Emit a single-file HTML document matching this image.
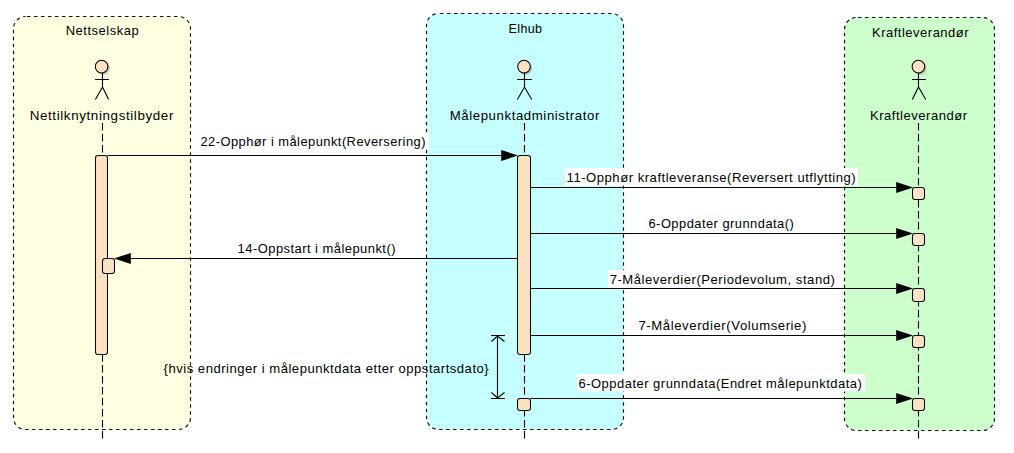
<!DOCTYPE html>
<html><head><meta charset="utf-8"><style>html,body{margin:0;padding:0;background:#fff;}svg{display:block;}</style></head>
<body>
<svg width="1014" height="453" viewBox="0 0 1014 453">
<defs><filter id="blur" x="-50%" y="-50%" width="200%" height="200%"><feGaussianBlur stdDeviation="0.7"/></filter></defs>
<rect width="1014" height="453" fill="#fff"/>
<rect x="13.5" y="16.5" width="177" height="413" rx="12" ry="12" fill="#FFFFE1" stroke="#111" stroke-width="1.15" stroke-dasharray="3.6 3.4" stroke-dashoffset="-1.4"/>
<rect x="426.5" y="13.5" width="197" height="416" rx="12" ry="12" fill="#C6FFFF" stroke="#111" stroke-width="1.15" stroke-dasharray="3.6 3.4" stroke-dashoffset="-1.4"/>
<rect x="844.5" y="17.5" width="150" height="413" rx="12" ry="12" fill="#CCFFCC" stroke="#111" stroke-width="1.15" stroke-dasharray="3.6 3.4" stroke-dashoffset="-1.4"/>
<circle cx="103.19999999999999" cy="68.2" r="6.6" fill="#8a8a8a" opacity="0.5" filter="url(#blur)"/>
<circle cx="101.6" cy="66.6" r="6.3" fill="#FBE2C4" stroke="#000" stroke-width="1.05"/>
<path d="M95.1 79.5 H108.9 M102.5 72.9 V87 M95.39999999999999 99.5 L102.5 87 L108.60000000000001 99.5" stroke="#000" stroke-width="1.1" fill="none"/>
<circle cx="525.6" cy="68.2" r="6.6" fill="#8a8a8a" opacity="0.5" filter="url(#blur)"/>
<circle cx="524" cy="66.6" r="6.3" fill="#FBE2C4" stroke="#000" stroke-width="1.05"/>
<path d="M517.1 79.5 H532 M524.5 72.9 V87 M517.4 99.5 L524.5 87 L531.7 99.5" stroke="#000" stroke-width="1.1" fill="none"/>
<circle cx="920.0" cy="68.2" r="6.6" fill="#8a8a8a" opacity="0.5" filter="url(#blur)"/>
<circle cx="918.4" cy="66.6" r="6.3" fill="#FBE2C4" stroke="#000" stroke-width="1.05"/>
<path d="M912 79.5 H926 M918.5 72.9 V87 M912.3 99.5 L918.5 87 L925.7 99.5" stroke="#000" stroke-width="1.1" fill="none"/>
<line x1="102.5" y1="123" x2="102.5" y2="438.5" stroke="#000" stroke-width="1.1" stroke-dasharray="7.5 3.5"/>
<line x1="524.5" y1="123" x2="524.5" y2="438.5" stroke="#000" stroke-width="1.1" stroke-dasharray="7.5 3.5"/>
<line x1="918.5" y1="123" x2="918.5" y2="438.5" stroke="#000" stroke-width="1.1" stroke-dasharray="7.5 3.5"/>
<rect x="95.5" y="155.5" width="12" height="199" rx="2.5" ry="2.5" fill="#FAE2C2" stroke="#0a0a0a" stroke-width="1.05"/>
<rect x="102.5" y="258.5" width="12" height="15" rx="2.5" ry="2.5" fill="#FAE2C2" stroke="#0a0a0a" stroke-width="1.05"/>
<rect x="517.5" y="155.5" width="13" height="199" rx="2.5" ry="2.5" fill="#FAE2C2" stroke="#0a0a0a" stroke-width="1.05"/>
<rect x="517.5" y="398.5" width="13" height="12" rx="2.5" ry="2.5" fill="#FAE2C2" stroke="#0a0a0a" stroke-width="1.05"/>
<rect x="912.5" y="187.5" width="12" height="12" rx="2.5" ry="2.5" fill="#FAE2C2" stroke="#0a0a0a" stroke-width="1.05"/>
<rect x="912.5" y="233.5" width="12" height="12" rx="2.5" ry="2.5" fill="#FAE2C2" stroke="#0a0a0a" stroke-width="1.05"/>
<rect x="912.5" y="288.5" width="12" height="13" rx="2.5" ry="2.5" fill="#FAE2C2" stroke="#0a0a0a" stroke-width="1.05"/>
<rect x="912.5" y="335.5" width="12" height="12" rx="2.5" ry="2.5" fill="#FAE2C2" stroke="#0a0a0a" stroke-width="1.05"/>
<rect x="912.5" y="398.5" width="12" height="12" rx="2.5" ry="2.5" fill="#FAE2C2" stroke="#0a0a0a" stroke-width="1.05"/>
<rect x="199" y="132" width="230.2" height="17.5" fill="#fff"/>
<rect x="565" y="168" width="293" height="17.5" fill="#fff"/>
<rect x="608" y="270" width="229" height="18" fill="#fff"/>
<rect x="577" y="374" width="288" height="17.5" fill="#fff"/>
<line x1="107.5" y1="155.5" x2="501.2" y2="155.5" stroke="#000" stroke-width="1.1"/><path d="M501.2 149.9 L518.0 155.5 L501.2 161.1 Z" fill="#000"/>
<line x1="530.5" y1="187.5" x2="896.2" y2="187.5" stroke="#000" stroke-width="1.1"/><path d="M896.2 181.9 L913.0 187.5 L896.2 193.1 Z" fill="#000"/>
<line x1="530.5" y1="233.5" x2="896.2" y2="233.5" stroke="#000" stroke-width="1.1"/><path d="M896.2 227.9 L913.0 233.5 L896.2 239.1 Z" fill="#000"/>
<line x1="517.5" y1="258.5" x2="130.8" y2="258.5" stroke="#000" stroke-width="1.1"/><path d="M130.8 252.9 L114.0 258.5 L130.8 264.1 Z" fill="#000"/>
<line x1="530.5" y1="288.5" x2="896.2" y2="288.5" stroke="#000" stroke-width="1.1"/><path d="M896.2 282.9 L913.0 288.5 L896.2 294.1 Z" fill="#000"/>
<line x1="530.5" y1="335.5" x2="896.2" y2="335.5" stroke="#000" stroke-width="1.1"/><path d="M896.2 329.9 L913.0 335.5 L896.2 341.1 Z" fill="#000"/>
<line x1="530.5" y1="398.5" x2="896.2" y2="398.5" stroke="#000" stroke-width="1.1"/><path d="M896.2 392.9 L913.0 398.5 L896.2 404.1 Z" fill="#000"/>
<path d="M491 335.5 H505 M491 398.5 H505 M497.5 335.5 V398.5 M491.5 341.5 L497.5 336 L504.5 341.5 M491.5 392.5 L497.5 398 L504.5 392.5" stroke="#000" stroke-width="1.1" fill="none"/>
<g font-family='"Liberation Sans", sans-serif' font-size="12" fill="#000">
<text transform="translate(65.7 35) scale(1.0821 1)" x="0" y="0" textLength="67.46" lengthAdjust="spacing">Nettselskap</text>
<text transform="translate(508.6 32.8) scale(1.0455 1)" x="0" y="0" textLength="32.04" lengthAdjust="spacing">Elhub</text>
<text transform="translate(872 36.6) scale(1.0840 1)" x="0" y="0" textLength="89.11" lengthAdjust="spacing">Kraftleverandør</text>
<text transform="translate(29.7 119.8) scale(1.1156 1)" x="0" y="0" textLength="128.81" lengthAdjust="spacing">Nettilknytningstilbyder</text>
<text transform="translate(449.7 119.8) scale(1.0997 1)" x="0" y="0" textLength="136.04" lengthAdjust="spacing">Målepunktadministrator</text>
<text transform="translate(870 119.5) scale(1.0870 1)" x="0" y="0" textLength="89.33" lengthAdjust="spacing">Kraftleverandør</text>
<text transform="translate(200.4 146) scale(1.0759 1)" x="0" y="0" textLength="209.21" lengthAdjust="spacing">22-Opphør i målepunkt(Reversering)</text>
<text transform="translate(566.6 182) scale(1.0927 1)" x="0" y="0" textLength="264.57" lengthAdjust="spacing">11-Opphør kraftleveranse(Reversert utflytting)</text>
<text transform="translate(648.5 227.8) scale(1.0762 1)" x="0" y="0" textLength="135.01" lengthAdjust="spacing">6-Oppdater grunndata()</text>
<text transform="translate(237.6 252.9) scale(1.0802 1)" x="0" y="0" textLength="146.17" lengthAdjust="spacing">14-Oppstart i målepunkt()</text>
<text transform="translate(609.65 283.8) scale(1.0903 1)" x="0" y="0" textLength="206.55" lengthAdjust="spacing">7-Måleverdier(Periodevolum, stand)</text>
<text transform="translate(638.5 329.7) scale(1.0966 1)" x="0" y="0" textLength="153.11" lengthAdjust="spacing">7-Måleverdier(Volumserie)</text>
<text transform="translate(578.5 387.7) scale(1.0817 1)" x="0" y="0" textLength="261.90" lengthAdjust="spacing">6-Oppdater grunndata(Endret målepunktdata)</text>
<text transform="translate(163.6 372.7) scale(1.0914 1)" x="0" y="0" textLength="297.87" lengthAdjust="spacing">{hvis endringer i målepunktdata etter oppstartsdato}</text>
</g>
</svg>
</body></html>
